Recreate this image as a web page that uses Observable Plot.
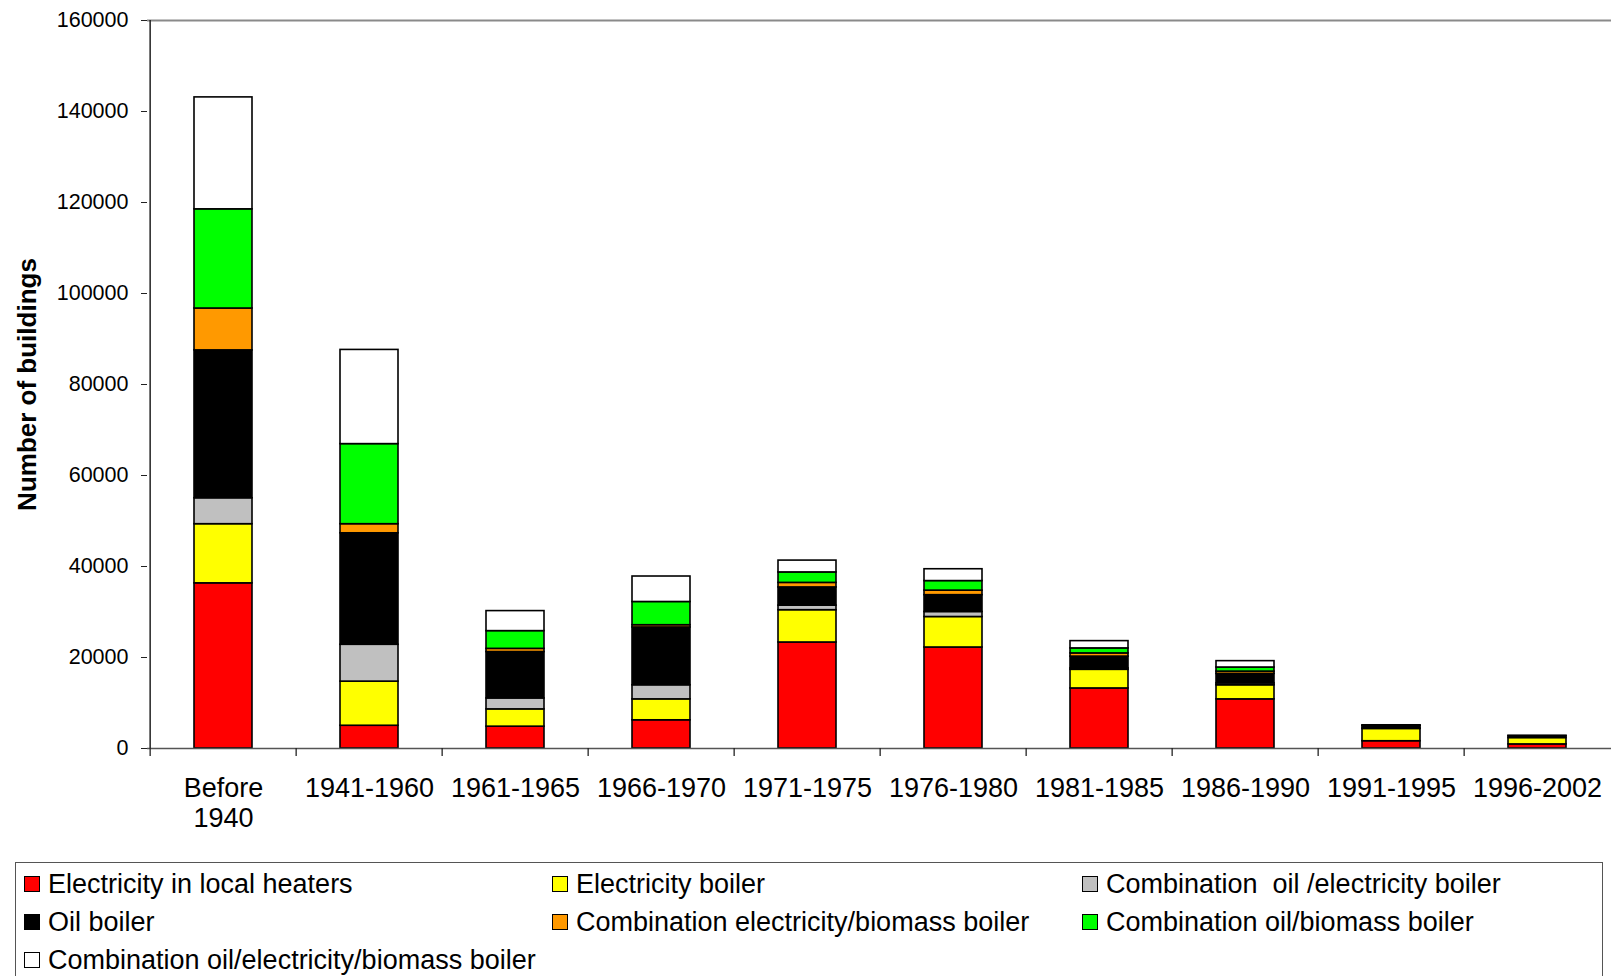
<!DOCTYPE html>
<html>
<head>
<meta charset="utf-8">
<script src="https://cdn.jsdelivr.net/npm/d3@7"></script>
<script src="https://cdn.jsdelivr.net/npm/@observablehq/plot@0.6"></script>
<style>
  html, body { margin: 0; padding: 0; background: #fff; }
  #wrap { position: relative; width: 1611px; height: 976px; overflow: hidden; font-family: "Liberation Sans", Arial, sans-serif; }
  #chart svg { display: block; }
  #legend {
    position: absolute; left: 15px; top: 862px; width: 1588px; height: 140px;
    border: 1.5px solid #555; box-sizing: border-box; background: #fff;
  }
  .item { position: absolute; display: flex; align-items: center; font-size: 27px; color: #000; white-space: pre; }
  .sw { width: 14px; height: 14px; border: 1.5px solid #000; margin-right: 8px; flex: none; }
</style>
</head>
<body>
<div id="wrap">
  <div id="chart"></div>
  <div id="legend"></div>
</div>
<script>
// Construction periods (x categories)
const periods = ["Before\n1940", "1941-1960", "1961-1965", "1966-1970", "1971-1975", "1976-1980", "1981-1985", "1986-1990", "1991-1995", "1996-2002"];

// Heating system names (stack order, bottom to top)
const systems = [
  "Electricity in local heaters",
  "Electricity boiler",
  "Combination  oil /electricity boiler",
  "Oil boiler",
  "Combination electricity/biomass boiler",
  "Combination oil/biomass boiler",
  "Combination oil/electricity/biomass boiler"
];
const systemColors = ["#FF0000", "#FFFF00", "#C0C0C0", "#000000", "#FF9900", "#00FF00", "#FFFFFF"];

// Number of buildings per period, one array per heating system
const electricityLocalHeaters = [36300, 5000, 4800, 6200, 23300, 22200, 13200, 10800, 1600, 900];
const electricityBoiler       = [13000, 9700, 3800, 4600, 7100, 6700, 4100, 3100, 2700, 1400];
const oilElectricityBoiler    = [5700, 8100, 2400, 3100, 1000, 1100, 300, 400, 100, 0];
const oilBoiler               = [32500, 24500, 10200, 12700, 4000, 3700, 2600, 2100, 500, 400];
const electricityBiomass      = [9200, 2000, 700, 500, 1000, 1000, 700, 500, 0, 0];
const oilBiomass              = [21800, 17600, 3900, 5100, 2300, 2100, 1100, 900, 100, 0];
const oilElectricityBiomass   = [24600, 20700, 4400, 5600, 2600, 2600, 1600, 1400, 100, 100];

const yTicks = [0, 20000, 40000, 60000, 80000, 100000, 120000, 140000, 160000];

const seriesValues = [electricityLocalHeaters, electricityBoiler, oilElectricityBoiler, oilBoiler, electricityBiomass, oilBiomass, oilElectricityBiomass];

// Long table for the stacked bars
const rows = [];
periods.forEach((p, i) => {
  systems.forEach((s, j) => {
    const v = seriesValues[j][i];
    if (v > 0) rows.push({period: p, system: s, value: v});
  });
});

const width = 1611, height = 845;
const marginLeft = 147, marginRight = -3, marginTop = 20, marginBottom = 97;
const step = (width - marginRight - marginLeft) / periods.length;
const yMax = 160000;
const yPerPx = yMax / (height - marginBottom - marginTop);
const tickLen = 8;

const chart = Plot.plot({
  width, height, marginLeft, marginRight, marginTop, marginBottom,
  style: {fontFamily: "'Liberation Sans', Arial, sans-serif", fontSize: "21.5px", color: "#000", background: "#fff"},
  x: {domain: periods, paddingInner: 0.6, paddingOuter: 0.3, label: null},
  y: {domain: [0, yMax], label: null},
  color: {domain: systems, range: systemColors},
  marks: [
    // top border of the plot area
    Plot.ruleY([yMax], {stroke: "#8a8a8a", strokeWidth: 2}),
    Plot.barY(rows, {
      x: "period", y: "value", fill: "system",
      stroke: "#000", strokeWidth: 1.6, order: systems
    }),
    // category axis baseline and boundary ticks
    Plot.ruleY([0], {stroke: "#555", strokeWidth: 1.5}),
    Plot.ruleX(periods, {x: d => d, dx: -step / 2, y1: 0, y2: -tickLen * yPerPx, stroke: "#222", strokeWidth: 1.3}),
    // value axis line
    Plot.ruleX([periods[0]], {x: d => d, dx: -step / 2, stroke: "#222", strokeWidth: 1.5}),
    Plot.axisY({ticks: yTicks, tickSize: 6, tickPadding: 13, tickFormat: d3.format("d"), fontSize: 21.5, stroke: "#222", label: null}),
    Plot.axisX({tickSize: 0, tickPadding: 27, fontSize: 27, lineHeight: 1.12, label: null}),
    Plot.text(["Number of buildings"], {
      text: d => d, frameAnchor: "left", textAnchor: "middle", rotate: -90, dx: -120,
      fontWeight: "bold", fontSize: 26, fill: "#000"
    })
  ]
});
document.getElementById("chart").appendChild(chart);

// Legend: three columns, row by row
const legend = document.getElementById("legend");
const colX = [8, 536, 1066];
const rowY = [21, 59, 97];
systems.forEach((s, k) => {
  const item = document.createElement("div");
  item.className = "item";
  item.style.left = colX[k % 3] + "px";
  item.style.top = (rowY[Math.floor(k / 3)] - 16) + "px";
  item.style.height = "32px";
  const sw = document.createElement("span");
  sw.className = "sw";
  sw.style.background = systemColors[k];
  const label = document.createElement("span");
  label.textContent = s;
  item.appendChild(sw);
  item.appendChild(label);
  legend.appendChild(item);
});
</script>
</body>
</html>
